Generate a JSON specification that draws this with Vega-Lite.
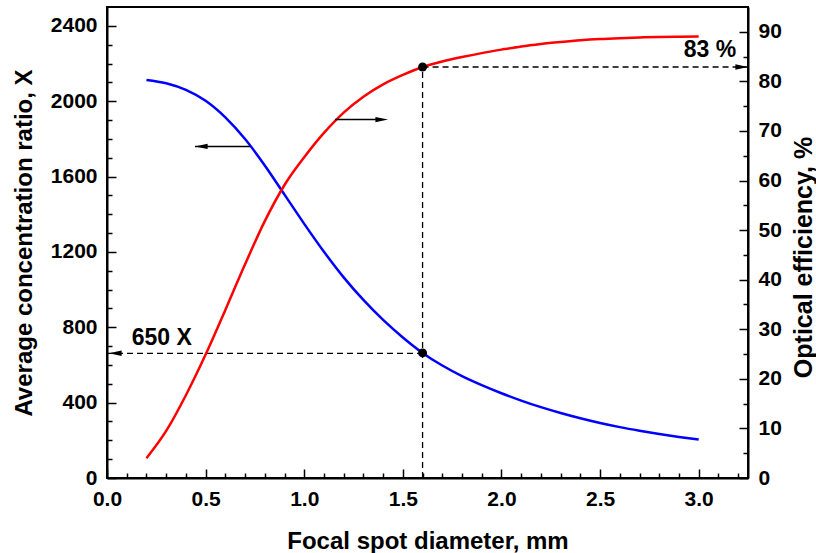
{
  "$schema": "https://vega.github.io/schema/vega-lite/v6.json",
  "width": 641,
  "height": 471,
  "autosize": {"type": "none"},
  "padding": {"left": 107, "top": 7, "right": 68, "bottom": 75},
  "background": "white",
  "config": {
    "view": {"stroke": "black", "strokeWidth": 2},
    "font": "Liberation Sans",
    "axis": {
      "grid": false,
      "domainColor": "black",
      "domainWidth": 2,
      "tickColor": "black",
      "tickWidth": 1.5,
      "labelFont": "Liberation Sans",
      "labelFontWeight": "bold",
      "labelFontSize": 21,
      "labelColor": "black",
      "labelFlush": false,
      "labelOverlap": false,
      "titleFont": "Liberation Sans",
      "titleFontWeight": "bold",
      "titleFontSize": 24,
      "titleColor": "black",
      "zindex": 1
    }
  },
  "datasets": {
    "blue": [
      {"x": 0.2, "y": 2113}, {"x": 0.3, "y": 2095}, {"x": 0.4, "y": 2060}, {"x": 0.5, "y": 2002},
      {"x": 0.6, "y": 1914}, {"x": 0.7, "y": 1799}, {"x": 0.8, "y": 1659}, {"x": 0.9, "y": 1504},
      {"x": 1.0, "y": 1349}, {"x": 1.1, "y": 1201}, {"x": 1.2, "y": 1065}, {"x": 1.3, "y": 945},
      {"x": 1.4, "y": 839}, {"x": 1.5, "y": 746}, {"x": 1.6, "y": 664}, {"x": 1.7, "y": 597},
      {"x": 1.8, "y": 541}, {"x": 1.9, "y": 493}, {"x": 2.0, "y": 450}, {"x": 2.1, "y": 411},
      {"x": 2.2, "y": 376}, {"x": 2.3, "y": 345}, {"x": 2.4, "y": 317}, {"x": 2.5, "y": 292},
      {"x": 2.6, "y": 270}, {"x": 2.7, "y": 251}, {"x": 2.8, "y": 234}, {"x": 2.9, "y": 218},
      {"x": 3.0, "y": 204}
    ],
    "red": [
      {"x": 0.2, "y": 4.0}, {"x": 0.3, "y": 9.5}, {"x": 0.4, "y": 16.7}, {"x": 0.5, "y": 24.9},
      {"x": 0.6, "y": 33.9}, {"x": 0.7, "y": 43.1}, {"x": 0.8, "y": 51.8}, {"x": 0.9, "y": 59.1},
      {"x": 1.0, "y": 64.7}, {"x": 1.1, "y": 69.6}, {"x": 1.2, "y": 73.7}, {"x": 1.3, "y": 76.9},
      {"x": 1.4, "y": 79.4}, {"x": 1.5, "y": 81.3}, {"x": 1.6, "y": 82.9}, {"x": 1.7, "y": 84.0},
      {"x": 1.8, "y": 84.9}, {"x": 1.9, "y": 85.7}, {"x": 2.0, "y": 86.4}, {"x": 2.1, "y": 87.05},
      {"x": 2.2, "y": 87.55}, {"x": 2.3, "y": 87.95}, {"x": 2.4, "y": 88.3}, {"x": 2.5, "y": 88.55},
      {"x": 2.6, "y": 88.72}, {"x": 2.7, "y": 88.85}, {"x": 2.8, "y": 88.95}, {"x": 2.9, "y": 89.0},
      {"x": 3.0, "y": 89.05}
    ]
  },
  "encoding": {
    "x": {
      "field": "x", "type": "quantitative",
      "scale": {"domain": [0, 3.25], "nice": false, "zero": false},
      "axis": {
        "title": "Focal spot diameter, mm",
        "values": [0, 0.1, 0.2, 0.3, 0.4, 0.5, 0.6, 0.7, 0.8, 0.9, 1, 1.1, 1.2, 1.3, 1.4, 1.5, 1.6, 1.7, 1.8, 1.9, 2, 2.1, 2.2, 2.3, 2.4, 2.5, 2.6, 2.7, 2.8, 2.9, 3, 3.1, 3.2],
        "tickSize": {"condition": {"test": "abs(datum.value*2-round(datum.value*2))<0.001", "value": -9}, "value": -5},
        "labelExpr": "abs(datum.value*2-round(datum.value*2))<0.001 ? format(datum.value, '.1f') : ''",
        "labelPadding": 19,
        "titlePadding": 16
      }
    }
  },
  "layer": [
    {
      "encoding": {
        "y": {
          "field": "y", "type": "quantitative",
          "scale": {"domain": [0, 2500], "nice": false},
          "axis": {
            "title": "Average concentration ratio, X",
            "orient": "left",
            "values": [0, 100, 200, 300, 400, 500, 600, 700, 800, 900, 1000, 1100, 1200, 1300, 1400, 1500, 1600, 1700, 1800, 1900, 2000, 2100, 2200, 2300, 2400],
            "tickSize": {"condition": {"test": "datum.value % 400 === 0", "value": -9}, "value": -5},
            "labelExpr": "datum.value % 400 === 0 ? format(datum.value, 'd') : ''",
            "labelPadding": 19,
            "titlePadding": 14
          }
        }
      },
      "layer": [
        {
          "data": {"name": "blue"},
          "mark": {"type": "line", "color": "#0000ff", "strokeWidth": 2.5, "interpolate": "monotone"}
        },
        {
          "data": {"values": [{"x": 0, "x2": 1.6, "y": 662, "y2": 662}]},
          "mark": {"type": "rule", "color": "black", "strokeWidth": 1.3, "strokeDash": [6, 4]},
          "encoding": {"x2": {"field": "x2"}, "y2": {"field": "y2"}}
        },
        {
          "data": {"values": [{"x": 0.446, "x2": 0.725, "y": 1760}]},
          "mark": {"type": "rule", "color": "black", "strokeWidth": 1.5},
          "encoding": {"x2": {"field": "x2"}}
        },
        {
          "data": {"values": [{"x": 0.042, "y": 662}, {"x": 0.478, "y": 1760}]},
          "mark": {"type": "point", "shape": "M-1,0L1,-0.42L1,0.42Z", "filled": true, "color": "black", "opacity": 1, "size": 160}
        },
        {
          "data": {"values": [{"x": 1.6, "y": 664}]},
          "mark": {"type": "circle", "color": "black", "opacity": 1, "size": 80}
        },
        {
          "data": {"values": [{"x": 0.125, "y": 745, "label": "650 X"}]},
          "mark": {"type": "text", "align": "left", "baseline": "middle", "font": "Liberation Sans", "fontWeight": "bold", "fontSize": 23, "color": "black"},
          "encoding": {"text": {"field": "label"}}
        }
      ]
    },
    {
      "encoding": {
        "y": {
          "field": "y", "type": "quantitative",
          "scale": {"domain": [0, 95], "nice": false},
          "axis": {
            "title": "Optical efficiency, %",
            "orient": "right",
            "values": [0, 5, 10, 15, 20, 25, 30, 35, 40, 45, 50, 55, 60, 65, 70, 75, 80, 85, 90],
            "tickSize": {"condition": {"test": "datum.value % 10 === 0", "value": -9}, "value": -5},
            "labelExpr": "datum.value % 10 === 0 ? format(datum.value, 'd') : ''",
            "labelPadding": 19,
            "titleAngle": 270,
            "titleBaseline": "top",
            "titleFontSize": 25,
            "titlePadding": 10,
            "titleY": 250
          }
        }
      },
      "layer": [
        {
          "data": {"name": "red"},
          "mark": {"type": "line", "color": "#ff0000", "strokeWidth": 2.5, "interpolate": "monotone"}
        },
        {
          "data": {"values": [{"x": 1.6, "x2": 3.25, "y": 82.9, "y2": 82.9}, {"x": 1.6, "x2": 1.6, "y": 0, "y2": 82.9}]},
          "mark": {"type": "rule", "color": "black", "strokeWidth": 1.3, "strokeDash": [6, 4]},
          "encoding": {"x2": {"field": "x2"}, "y2": {"field": "y2"}}
        },
        {
          "data": {"values": [{"x": 1.156, "x2": 1.39, "y": 72.3}]},
          "mark": {"type": "rule", "color": "black", "strokeWidth": 1.5},
          "encoding": {"x2": {"field": "x2"}}
        },
        {
          "data": {"values": [{"x": 3.218, "y": 82.9}, {"x": 1.393, "y": 72.3}]},
          "mark": {"type": "point", "shape": "M1,0L-1,-0.42L-1,0.42Z", "filled": true, "color": "black", "opacity": 1, "size": 160}
        },
        {
          "data": {"values": [{"x": 1.6, "y": 82.9}]},
          "mark": {"type": "circle", "color": "black", "opacity": 1, "size": 80}
        },
        {
          "data": {"values": [{"x": 3.19, "y": 86.3, "label": "83 %"}]},
          "mark": {"type": "text", "align": "right", "baseline": "middle", "font": "Liberation Sans", "fontWeight": "bold", "fontSize": 23, "color": "black"},
          "encoding": {"text": {"field": "label"}}
        }
      ]
    }
  ],
  "resolve": {"scale": {"y": "independent"}}
}
